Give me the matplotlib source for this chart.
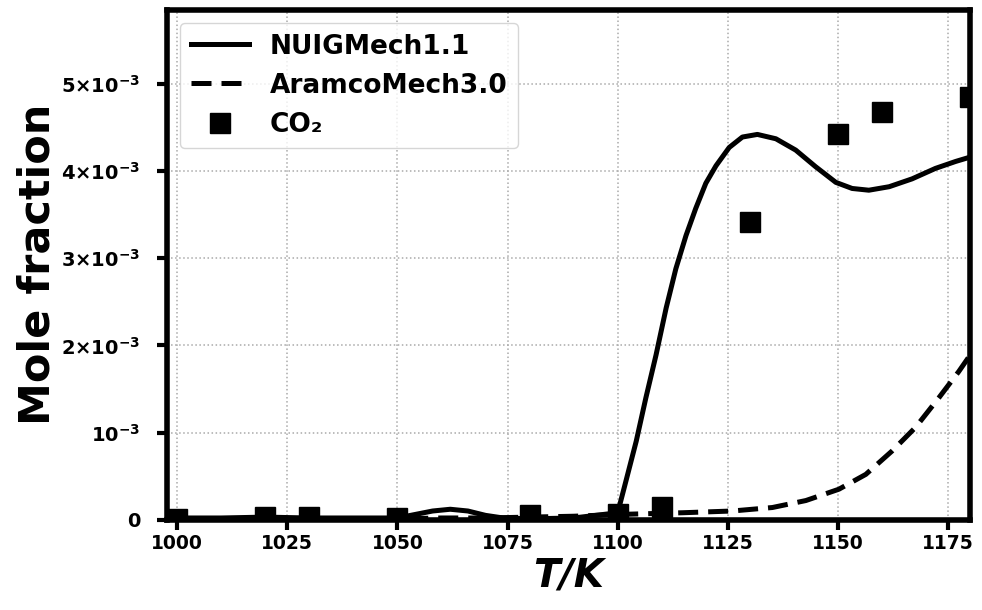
import numpy as np
import matplotlib
matplotlib.use("Agg")
import matplotlib.pyplot as plt
from matplotlib.ticker import FixedLocator

plt.rcParams['font.family'] = ['DejaVu Sans']
plt.rcParams['font.weight'] = 'bold'
plt.rcParams['mathtext.default'] = 'bf'

# NUIGMech1.1 simulation (mole fraction in 1e-3)
T_nuig = [998, 1010, 1020, 1030, 1040, 1050, 1054, 1058, 1062, 1066, 1070, 1074, 1080, 1090, 1100,
          1101.9, 1104.2, 1106.4, 1108.7, 1111.0, 1113.2, 1115.5, 1117.7, 1120.0, 1122.3, 1125.3,
          1128.3, 1131.7, 1135.9, 1140.4, 1144.9, 1149.5, 1153.2, 1157.0, 1161.6, 1166.8,
          1172.1, 1176.7, 1180]
x_nuig = [0.02, 0.02, 0.03, 0.02, 0.02, 0.02, 0.06, 0.10, 0.12, 0.10, 0.05, 0.02, 0.01, 0.02, 0.08,
          0.45, 0.90, 1.40, 1.89, 2.43, 2.88, 3.26, 3.57, 3.86, 4.06, 4.27,
          4.39, 4.42, 4.37, 4.24, 4.05, 3.87, 3.80, 3.78, 3.82, 3.91,
          4.03, 4.11, 4.16]

# AramcoMech3.0 simulation (mole fraction in 1e-3)
T_aramco = [998, 1020, 1050, 1060, 1070, 1080, 1090, 1100, 1114.7, 1126, 1135.1, 1142.7, 1150.2,
            1156.3, 1162.3, 1167.6, 1172.9, 1177.4, 1180]
x_aramco = [0.01, 0.01, 0.01, 0.02, 0.02, 0.03, 0.04, 0.06, 0.08, 0.10, 0.14, 0.22, 0.35,
            0.52, 0.79, 1.06, 1.40, 1.70, 1.89]

# CO2 experiment (mole fraction in 1e-3)
T_exp = [1000, 1020, 1030, 1050, 1080, 1100, 1110, 1130, 1150, 1160, 1180]
x_exp = [0.01, 0.03, 0.03, 0.02, 0.05, 0.06, 0.15, 3.41, 4.42, 4.68, 4.85]

y_ticks = [0, 1e-3, 2e-3, 3e-3, 4e-3, 5e-3]
y_tick_labels = ['0', r'$10^{-3}$', r'$2{\times}10^{-3}$', r'$3{\times}10^{-3}$',
                 r'$4{\times}10^{-3}$', r'$5{\times}10^{-3}$']
x_ticks = [1000, 1025, 1050, 1075, 1100, 1125, 1150, 1175]

fig = plt.figure(figsize=(9.82, 6.10), dpi=100)
ax = fig.add_axes([0.170, 0.148, 0.818, 0.836])

ax.plot(T_nuig, np.array(x_nuig) * 1e-3, color='black', lw=3.6, label='NUIGMech1.1',
        solid_joinstyle='round')
ax.plot(T_aramco, np.array(x_aramco) * 1e-3, color='black', lw=3.6, dashes=(4, 2),
        label='AramcoMech3.0')
ax.plot(T_exp, np.array(x_exp) * 1e-3, 's', color='black', ms=14, label='CO₂')

ax.set_xlim(997.7, 1180)
ax.set_ylim(0, 5.85e-3)
ax.xaxis.set_major_locator(FixedLocator(x_ticks))
ax.yaxis.set_major_locator(FixedLocator(y_ticks))
ax.set_yticklabels(y_tick_labels)

for lab in ax.get_xticklabels() + ax.get_yticklabels():
    lab.set_fontweight('bold')
ax.tick_params(axis='x', labelsize=13.5, width=3, length=7, direction='out')
ax.tick_params(axis='y', labelsize=14, width=3, length=7, direction='out', pad=12)

ax.grid(True, linestyle=':', color='#aaaaaa', lw=1.1)
for s in ax.spines.values():
    s.set_linewidth(4)

ax.set_xlabel('T/K', fontsize=28, fontweight='bold', fontstyle='italic', labelpad=2)
ax.set_ylabel('Mole fraction', fontsize=31, fontweight='bold', labelpad=2)

leg = ax.legend(loc='upper left', prop={'weight': 'bold', 'size': 19}, numpoints=1,
                handlelength=2.2, borderaxespad=0.5, fancybox=True)

fig.savefig('out.png', dpi=100)
